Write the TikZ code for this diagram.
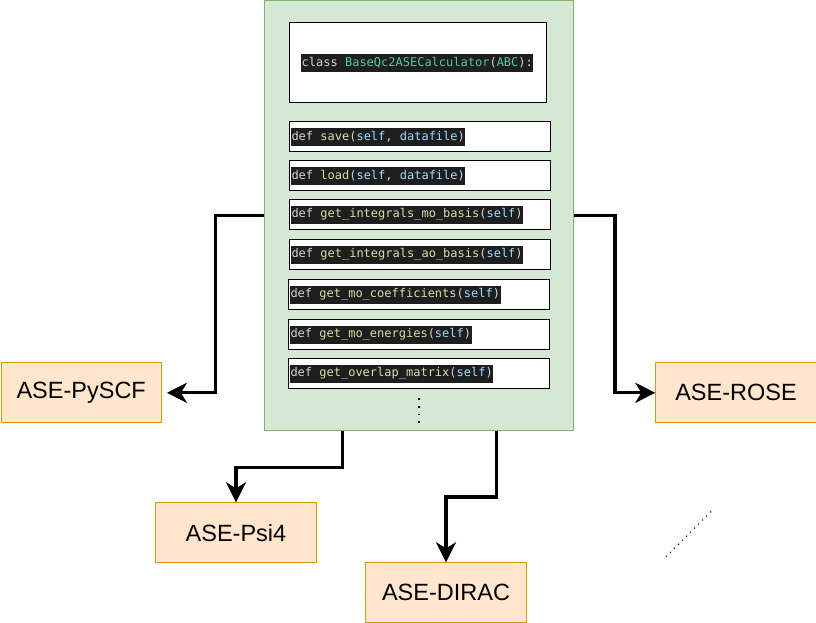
\documentclass[tikz,border=0pt]{standalone}
\usepackage{fontspec}
\setmainfont{Liberation Sans}
\newfontfamily\codefont{DejaVu Sans Mono}
\usetikzlibrary{arrows.meta}
\definecolor{greenfill}{HTML}{D5E8D4}
\definecolor{greenline}{HTML}{82B366}
\definecolor{orangefill}{HTML}{FFE6CC}
\definecolor{orangeline}{HTML}{D79B00}
\definecolor{codebg}{HTML}{1E1E1E}
\definecolor{ckw}{HTML}{D4D4D4}
\definecolor{cfn}{HTML}{DCDCAA}
\definecolor{carg}{HTML}{9CDCFE}
\definecolor{ccls}{HTML}{4EC9B0}
\newcommand{\kw}[1]{\textcolor{ckw}{#1}}
\newcommand{\fn}[1]{\textcolor{cfn}{#1}}
\newcommand{\ar}[1]{\textcolor{carg}{#1}}
\newcommand{\cl}[1]{\textcolor{ccls}{#1}}
\begin{document}
\begin{tikzpicture}[x=1pt,y=-1pt,
  greenbox/.style={draw=greenline,fill=greenfill,line width=1pt,anchor=north west,inner sep=0pt},
  classbox/.style={draw=black,fill=white,line width=1pt,anchor=north west,inner sep=0pt,minimum width=256.4pt,minimum height=80pt},
  methbox/.style={draw=black,fill=white,line width=1pt,anchor=north west,inner sep=0pt,minimum width=260.4pt,minimum height=30pt},
  codetext/.style={fill=codebg,text=ckw,font=\codefont\fontsize{12}{14}\selectfont,inner xsep=0.5pt,inner ysep=0pt,minimum height=18pt,anchor=west},
  extbox/.style={draw=orangeline,fill=orangefill,line width=1pt,inner sep=0pt,minimum width=160.4pt,minimum height=60pt,anchor=north west,font=\fontsize{23.5}{28}\selectfont},
  arr/.style={line width=3.2pt,-{Stealth[length=20pt,width=20pt,inset=6pt]}}
]
\useasboundingbox (0,0) rectangle (816,623);
% main container
\node[greenbox,minimum width=309pt,minimum height=429pt] (g) at (263.5,0.5) {};
% class header
\node[classbox] (cls) at (289.3,22.3) {};
\node[codetext,anchor=center] (clst) at ([xshift=-0.7pt]cls.center) {class \cl{BaseQc2ASECalculator}(\cl{ABC}):};
% methods
\node[methbox] (m1) at (289.3,121.3) {};
\node[methbox] (m2) at (289.3,160.3) {};
\node[methbox] (m3) at (289.3,199.3) {};
\node[methbox] (m4) at (289.3,239.3) {};
\node[methbox] (m5) at (288.3,279.3) {};
\node[methbox] (m6) at (288.3,319.3) {};
\node[methbox] (m7) at (288.3,358.3) {};
\node[codetext] (t1) at ([xshift=1.5pt]m1.west) {def \fn{save}(\ar{self}, \ar{datafile})};
\node[codetext] (t2) at ([xshift=1.5pt]m2.west) {def \fn{load}(\ar{self}, \ar{datafile})};
\node[codetext] (t3) at ([xshift=1.5pt]m3.west) {def \fn{get\_integrals\_mo\_basis}(\ar{self})};
\node[codetext] (t4) at ([xshift=1.5pt]m4.west) {def \fn{get\_integrals\_ao\_basis}(\ar{self})};
\node[codetext] (t5) at ([xshift=1.5pt]m5.west) {def \fn{get\_mo\_coefficients}(\ar{self})};
\node[codetext] (t6) at ([xshift=1.5pt]m6.west) {def \fn{get\_mo\_energies}(\ar{self})};
\node[codetext] (t7) at ([xshift=1.5pt]m7.west) {def \fn{get\_overlap\_matrix}(\ar{self})};
% vertical dots
\coordinate (vd1) at (419,398.3);
\coordinate (vd2) at (419,424);
\draw[line width=1.6pt,dash pattern=on 1.6pt off 6.1pt] (vd1) -- (vd2);
% external boxes
\node[extbox] (pyscf) at (0.5,362.3) {ASE-PySCF};
\node[extbox] (rose) at (655.3,362.3) {ASE-ROSE};
\node[extbox] (psi4) at (155.3,502.3) {ASE-Psi4};
\node[extbox] (dirac) at (365.3,562.3) {ASE-DIRAC};
% arrows
\draw[arr,shorten >=5pt] (g.west) -- ++(-48,0) |- (pyscf.east);
\draw[arr] (g.east) -- ++(41.5,0) |- (rose.west);
\draw[arr] ([xshift=-76.3pt]g.south) -- ++(0,37) -| (psi4.north);
\draw[arr] ([xshift=78pt]g.south) -- ++(0,66.5) -| (dirac.north);
% diagonal dotted line
\coordinate (dd1) at (666,556.7);
\coordinate (dd2) at (711.7,511);
\draw[line width=1.1pt,dash pattern=on 1.1pt off 4.6pt] (dd1) -- (dd2);
\end{tikzpicture}
\end{document}
